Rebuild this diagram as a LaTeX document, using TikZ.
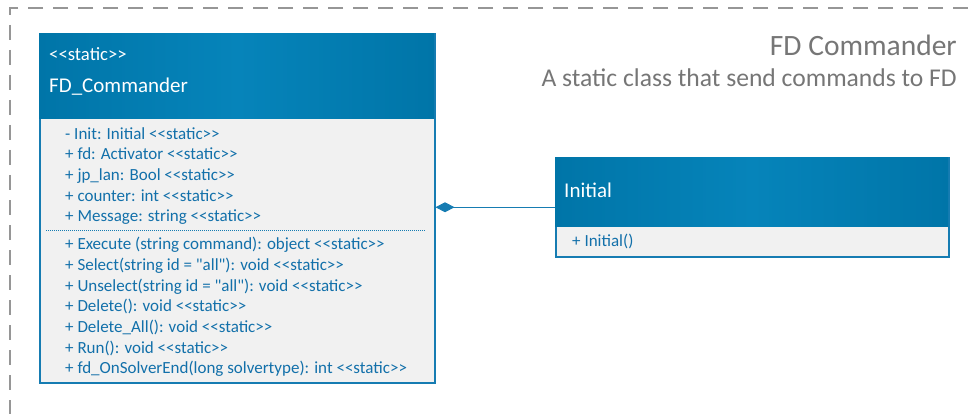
\documentclass[tikz,border=0pt]{standalone}
\usepackage{fontspec}
\setmainfont{Carlito}[Ligatures=TeXOff]
\usetikzlibrary{arrows.meta,positioning,calc}
\definecolor{umlhead}{RGB}{0,117,168}
\definecolor{umlheadmid}{RGB}{6,132,186}
\definecolor{umlline}{RGB}{22,124,178}
\definecolor{umlbody}{RGB}{241,241,241}
\definecolor{umltext}{RGB}{18,112,170}
\definecolor{framegray}{RGB}{150,150,150}
\definecolor{titlegray}{RGB}{118,118,118}
\newcommand{\stereo}{<{}<static>{}>}

\begin{document}
\begin{tikzpicture}[x=1pt, y=-1pt, >=Latex, font=\fontsize{17}{20.7}\selectfont]
\useasboundingbox (0,0) rectangle (968,414);
% Frame
\draw[framegray, line width=1.6pt, dash pattern=on 15pt off 10pt] (968,8) -- (10,8) -- (10,414);
\node(title)[anchor=east, text=titlegray, inner sep=0pt, font=\fontsize{29.5}{32}\selectfont] at (957,45) {FD Commander};
\node(subtitle)[anchor=east, text=titlegray, inner sep=0pt, font=\fontsize{25.6}{28}\selectfont] at (957,78) {A static class that send commands to FD};

% Classes
\node(commander)[draw=umlline, fill=umlbody, line width=1.5pt, inner sep=0pt, minimum width=395pt, minimum height=349pt, anchor=north west] at (39,33) {};
\node(cmdhead)[left color=umlhead, right color=umlhead, middle color=umlheadmid, inner sep=0pt, minimum width=395pt, minimum height=85pt, anchor=north west] at (commander.north west) {};
\node(cmdstereo)[anchor=west, text=white, inner sep=0pt, font=\fontsize{18.7}{22}\selectfont] at (49,54) {\stereo};
\node(cmdname)[anchor=west, text=white, inner sep=0pt, font=\fontsize{21}{24}\selectfont] at (49,87) {FD\_Commander};
\node(cmdattr)[anchor=north west, text=umltext, inner sep=0pt, align=left] at (65,127) {%
- Init: Initial \stereo\\
+ fd: Activator \stereo\\
+ jp\_lan: Bool \stereo\\
+ counter: int \stereo\\
+ Message: string \stereo};
\draw[umlline, line width=0.8pt, dash pattern=on 1pt off 1pt] (46,230) -- (426,230);
\node(cmdops)[anchor=north west, text=umltext, inner sep=0pt, align=left] at (65,237) {%
+ Execute (string command): object \stereo\\
+ Select(string id = "all"): void \stereo\\
+ Unselect(string id = "all"): void \stereo\\
+ Delete(): void \stereo\\
+ Delete\_All(): void \stereo\\
+ Run(): void \stereo\\
+ fd\_OnSolverEnd(long solvertype): int \stereo};

\node(initial)[draw=umlline, fill=umlbody, line width=1.5pt, inner sep=0pt, minimum width=393pt, minimum height=99pt, anchor=north west] at (555,157) {};
\node(inithead)[left color=umlhead, right color=umlhead, middle color=umlheadmid, inner sep=0pt, minimum width=393pt, minimum height=69pt, anchor=north west] at (initial.north west) {};
\node(initname)[anchor=west, text=white, inner sep=0pt, font=\fontsize{21}{24}\selectfont] at (564,190) {Initial};
\node(initops)[anchor=west, text=umltext, inner sep=0pt] at (572,241) {+ Initial()};

% Arrows
\draw[umlline, line width=1pt, -{Diamond[length=19pt,width=10pt]}] (initial.west) -- (initial.west -| commander.east);
\end{tikzpicture}
\end{document}
